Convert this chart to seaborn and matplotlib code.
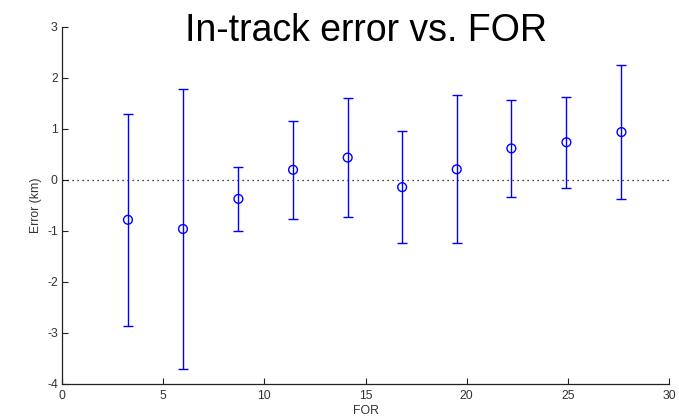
import matplotlib
matplotlib.use("Agg")
import matplotlib.pyplot as plt
import seaborn as sns
import pandas as pd

# FOR bins, mean in-track error and its spread (km)
for_values = [3.26, 5.98, 8.72, 11.42, 14.12, 16.81, 19.51, 22.21, 24.93, 27.65]
mean_error = [-0.79, -0.97, -0.38, 0.19, 0.43, -0.15, 0.20, 0.61, 0.73, 0.93]
error_spread = [2.08, 2.75, 0.63, 0.96, 1.17, 1.10, 1.45, 0.95, 0.89, 1.32]

x_ticks = [0, 5, 10, 15, 20, 25, 30]
y_ticks = [-4, -3, -2, -1, 0, 1, 2, 3]

df = pd.DataFrame({"FOR": for_values, "err": mean_error, "sd": error_spread})

sns.set_style("white")
plt.rcParams["font.family"] = ["Liberation Sans", "DejaVu Sans"]
plt.rcParams["axes.unicode_minus"] = False

fig = plt.figure(figsize=(6.79, 4.18), dpi=100)
ax = fig.add_axes([0.0913, 0.0825, 0.894, 0.8541])

blue = "#0000ff"
ax.errorbar(df["FOR"], df["err"], yerr=df["sd"], fmt="none",
            ecolor=blue, elinewidth=1.0, capsize=3.6, capthick=1.0, zorder=3)
sns.scatterplot(data=df, x="FOR", y="err", ax=ax, marker="o", s=40,
                facecolor="none", edgecolor=blue, linewidth=1.0, zorder=4)

ax.axhline(0, color="black", linestyle=(0, (1, 3)), linewidth=0.9, zorder=2)

ax.set_xlim(0, 30)
ax.set_ylim(-4, 3)
ax.set_xticks(x_ticks)
ax.set_yticks(y_ticks)
ax.tick_params(direction="in", length=4, width=0.8, colors="#222222",
               labelsize=8.8, labelcolor="#333333", pad=3,
               bottom=True, left=True, top=False, right=False)
ax.tick_params(axis="x", pad=5)

for side in ("top", "right"):
    ax.spines[side].set_visible(False)
for side in ("left", "bottom"):
    ax.spines[side].set_color("#222222")
    ax.spines[side].set_linewidth(0.9)

ax.set_xlabel("FOR", fontsize=8.8, color="#333333", labelpad=2)
ax.set_ylabel("Error (km)", fontsize=8.8, color="#333333", labelpad=4)

ax.text(0.5, 0.958, "In-track error vs. FOR", transform=ax.transAxes,
        ha="center", va="baseline", fontsize=27, color="black")

fig.savefig("out.png", dpi=100, facecolor="white")
